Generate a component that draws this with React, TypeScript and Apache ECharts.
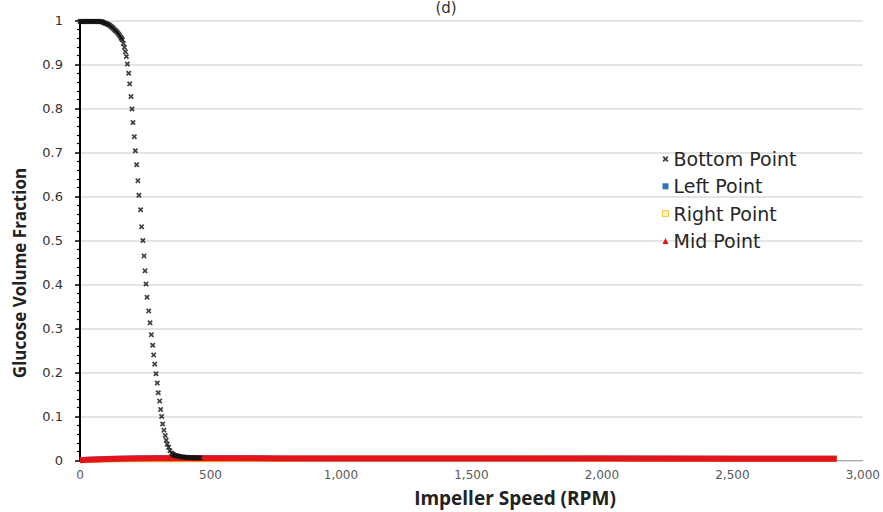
import React, { useEffect, useRef } from "react";
import * as echarts from "echarts";

const xTicks = [0, 500, 1000, 1500, 2000, 2500, 3000];

const bottomRpm = [
  0, 4, 8, 12, 16, 20, 24, 28, 32, 36, 40, 44, 48, 52, 56, 60, 64, 68, 72, 76,
  80, 84, 88, 92, 96, 100, 104, 108, 112, 116, 120, 124, 128, 132, 136, 140, 144, 148, 152, 156, 159,
  162.5, 166.3, 170.2, 174, 177.8, 181.6, 186.6, 190.3, 195.3, 199.1, 202.9, 208.2, 212, 217, 221.9,
  225.7, 232.2, 236, 241, 245.5, 249.3, 253.1, 256.9, 263.4, 268.4, 273.3, 278.6, 282.4, 286.3, 291.2,
  296.2, 300, 305.3, 309.1, 312.9, 316.7, 321.7, 326.6, 330.4, 334.2, 339.6, 344.5, 351, 355, 359,
  362.4, 366, 370, 375, 380, 385, 390, 395, 400, 406, 412, 418, 424, 430, 436, 442, 448, 454, 460,
];
const bottomFrac = [
  0.998, 0.998, 0.998, 0.998, 0.998, 0.998, 0.998, 0.998, 0.998, 0.998, 0.998, 0.998, 0.998, 0.998,
  0.998, 0.998, 0.998, 0.998, 0.998, 0.998,
  0.997, 0.997, 0.996, 0.995, 0.994, 0.993, 0.992, 0.991, 0.99, 0.988, 0.986, 0.984, 0.982, 0.979,
  0.977, 0.975, 0.972, 0.969, 0.966, 0.962, 0.959,
  0.956, 0.948, 0.939, 0.929, 0.918, 0.901, 0.88, 0.856, 0.827, 0.799, 0.768, 0.736, 0.704, 0.672,
  0.636, 0.603, 0.57, 0.531, 0.5, 0.465, 0.431, 0.401, 0.371, 0.34, 0.313, 0.286, 0.262, 0.24, 0.219,
  0.197, 0.176, 0.154, 0.135, 0.116, 0.1, 0.083, 0.069, 0.057, 0.046, 0.037, 0.03, 0.022, 0.017, 0.015,
  0.013, 0.012, 0.011, 0.011, 0.01, 0.009, 0.009, 0.008, 0.008, 0.008, 0.007, 0.007, 0.007, 0.007,
  0.006, 0.006, 0.006, 0.006, 0.006, 0.006,
];

const leftRpm = [0, 30, 60, 100, 150, 200, 300, 500, 750, 1000, 1500, 2000, 2500, 2900];
const leftFrac = [0.0005, 0.0015, 0.0025, 0.0035, 0.0042, 0.0047, 0.005, 0.005, 0.0048, 0.0046, 0.0044, 0.0043, 0.0042, 0.0042];

const rightRpm = [0, 50, 100, 200, 400, 700, 760, 1000, 1500, 2000, 2500, 2900];
const rightFrac = [0, 0.0012, 0.002, 0.0028, 0.003, 0.0032, 0.0042, 0.0044, 0.0043, 0.0042, 0.0041, 0.0041];

const midRpm = [0, 30, 60, 100, 150, 200, 300, 500, 750, 1000, 1500, 2000, 2500, 2900];
const midFrac = [0.0005, 0.0015, 0.0025, 0.0035, 0.0042, 0.0047, 0.005, 0.005, 0.0048, 0.0046, 0.0044, 0.0043, 0.0042, 0.0042];

const seriesNames = ["Bottom Point", "Left Point", "Right Point", "Mid Point"];

const xMark =
  "path://M0,2.2L2.2,0L5,2.8L7.8,0L10,2.2L7.2,5L10,7.8L7.8,10L5,7.2L2.2,10L0,7.8L2.8,5Z";

const zip = (a: number[], b: number[]) => a.map((v, i) => [v, b[i]]);

export default function App() {
  const ref = useRef<HTMLDivElement>(null);
  useEffect(() => {
    if (!ref.current) return;
    const chart = echarts.init(ref.current, undefined, { renderer: "svg" });
    chart.setOption({
      animation: false,
      backgroundColor: "#ffffff",
      grid: { left: 80, right: 15, top: 20.5, bottom: 51.5, containLabel: false },
      xAxis: {
        type: "value",
        min: xTicks[0],
        max: xTicks[xTicks.length - 1],
        interval: 500,
        axisLine: { show: true, lineStyle: { color: "#a6a6a6", width: 1.2 } },
        axisTick: { show: false },
        splitLine: { show: false },
        axisLabel: {
          margin: 8,
          color: "#595959",
          fontFamily: "DejaVu Sans",
          fontSize: 12,
          formatter: (v: number) => v.toLocaleString("en-US"),
        },
      },
      yAxis: {
        type: "value",
        min: 0,
        max: 1,
        interval: 0.1,
        axisLine: { show: true, onZero: false, lineStyle: { color: "#000", width: 2 } },
        axisTick: { show: true, inside: false, length: 5, lineStyle: { color: "#000", width: 1.5 } },
        minorTick: { show: true, splitNumber: 5, length: 3, lineStyle: { color: "#000", width: 1.2 } },
        splitLine: { show: true, lineStyle: { color: "#e4e4e4", width: 2 } },
        axisLabel: {
          margin: 17,
          color: "#333",
          fontFamily: "DejaVu Sans",
          fontSize: 13,
          formatter: (v: number) => String(Math.round(v * 10) / 10),
        },
      },
      legend: {
        orient: "vertical",
        left: 657,
        top: 144,
        itemWidth: 6,
        itemHeight: 6,
        itemGap: 7.3,
        textStyle: { fontFamily: "DejaVu Sans", fontSize: 19, color: "#262626", lineHeight: 20 },
        data: [
          { name: seriesNames[0], icon: xMark, itemStyle: { color: "#111" } },
          { name: seriesNames[1], icon: "rect", itemStyle: { color: "#2f75b5" } },
          { name: seriesNames[2], icon: "rect", itemStyle: { color: "#fff3b8", borderColor: "#f3c443", borderWidth: 1 } },
          { name: seriesNames[3], icon: "triangle", itemStyle: { color: "#e3141b" } },
        ],
      },
      graphic: [
        {
          type: "text",
          x: 446,
          y: 0,
          style: {
            text: "(d)",
            fontFamily: "DejaVu Sans",
            fontSize: 15,
            fill: "#333",
            textAlign: "center",
            textVerticalAlign: "top",
          },
        },
        {
          type: "text",
          x: 515,
          y: 498,
          style: {
            text: "Impeller Speed (RPM)",
            fontFamily: "Open Sans",
            fontWeight: "bold",
            fontSize: 19,
            fill: "#222",
            textAlign: "center",
            textVerticalAlign: "middle",
          },
        },
        {
          type: "text",
          x: 19,
          y: 273,
          rotation: Math.PI / 2,
          style: {
            text: "Glucose Volume Fraction",
            fontFamily: "Open Sans",
            fontWeight: "bold",
            fontSize: 17,
            fill: "#222",
            textAlign: "center",
            textVerticalAlign: "middle",
          },
        },
      ],
      series: [
        {
          name: seriesNames[1],
          type: "line",
          data: zip(leftRpm, leftFrac),
          showSymbol: false,
          symbol: "rect",
          color: "#2f75b5",
          lineStyle: { color: "#2f75b5", width: 6 },
          z: 2,
        },
        {
          name: seriesNames[2],
          type: "line",
          data: zip(rightRpm, rightFrac),
          showSymbol: false,
          symbol: "rect",
          color: "#f3c443",
          lineStyle: { color: "#f1bd3a", width: 6 },
          z: 3,
        },
        {
          name: seriesNames[3],
          type: "line",
          data: zip(midRpm, midFrac),
          showSymbol: false,
          symbol: "triangle",
          color: "#e3141b",
          lineStyle: { color: "#e3141b", width: 6 },
          z: 4,
        },
        {
          name: seriesNames[0],
          type: "scatter",
          data: zip(bottomRpm, bottomFrac),
          symbol: xMark,
          symbolSize: 5.5,
          itemStyle: { color: "#111" },
          z: 5,
        },
      ],
    });
    return () => chart.dispose();
  }, []);
  return (
    <div
      ref={ref}
      style={{ position: "fixed", left: 0, top: 0, width: 883, height: 512 }}
    />
  );
}
